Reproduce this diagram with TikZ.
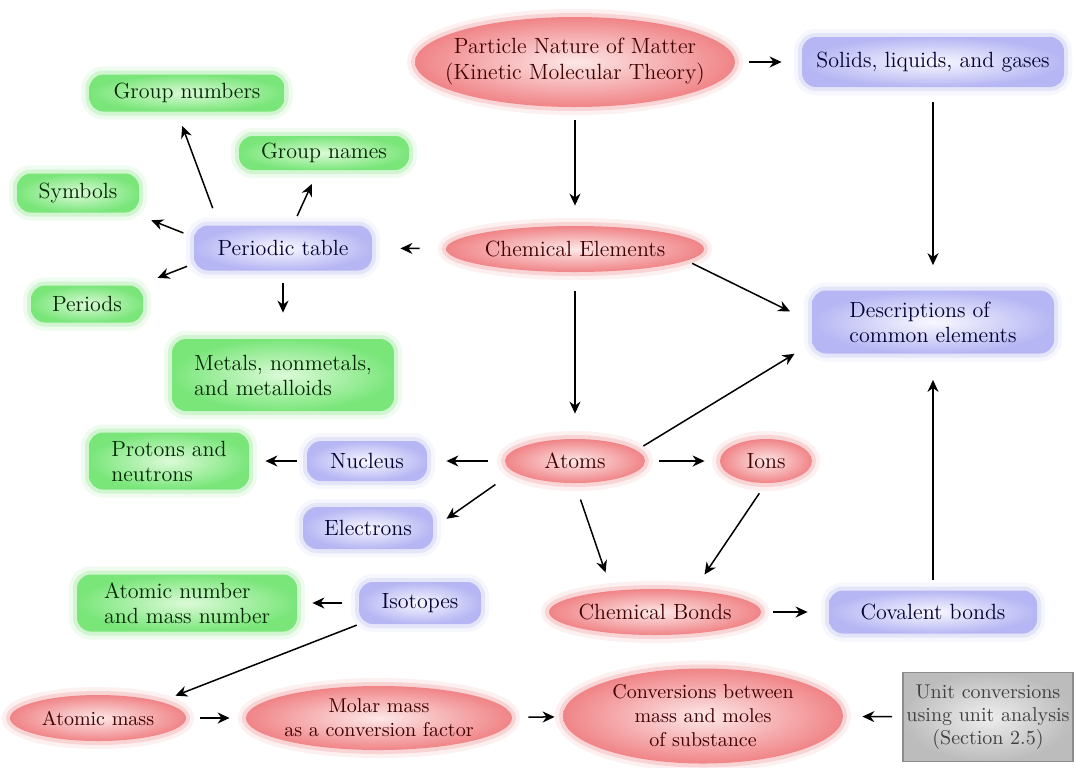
\documentclass[tikz,border=0pt]{standalone}
\usepackage{tikz}
\usetikzlibrary{shapes, arrows.meta, positioning}
\usepackage{xcolor}

\definecolor{redEdge}{RGB}{240,132,135}
\definecolor{redCore}{RGB}{253,232,232}
\definecolor{blueEdge}{RGB}{182,182,244}
\definecolor{blueCore}{RGB}{248,248,255}
\definecolor{greenEdge}{RGB}{122,230,122}
\definecolor{greenCore}{RGB}{220,250,216}
\definecolor{grayEdge}{RGB}{188,188,188}
\definecolor{grayCore}{RGB}{238,238,238}

\begin{document}
\begin{tikzpicture}[x=0.5pt, y=-0.5pt,
    >={Stealth[length=6pt, width=5.5pt]},
    halo/.style={preaction={draw=#1, draw opacity=0.12, line width=8pt},
                 preaction={draw=#1, draw opacity=0.25, line width=4pt}},
    redball/.style={ellipse, inner xsep=-12pt, inner ysep=-4pt, inner color=redCore, outer color=redEdge,
                    text=red!25!black, align=center, halo=redEdge, font=\fontsize{11}{13}\selectfont},
    smallball/.style={redball, font=\fontsize{10}{12}\selectfont},
    bluebox/.style={rectangle, rounded corners=7pt, inner sep=0pt, inner color=blueCore, outer color=blueEdge,
                    text=blue!20!black, align=left, halo=blueEdge, font=\fontsize{11}{12.5}\selectfont},
    greenbox/.style={rectangle, rounded corners=7pt, inner sep=0pt, inner color=greenCore, outer color=greenEdge,
                     text=green!15!black, align=left, halo=greenEdge, font=\fontsize{11}{12.5}\selectfont},
    graybox/.style={rectangle, inner sep=0pt, inner color=grayCore, outer color=grayEdge, draw=black!45,
                    line width=0.8pt, text=black!75, align=center, font=\fontsize{10}{11.5}\selectfont},
    link/.style={->, line width=0.75pt},
    gap/.style 2 args={shorten <=#1, shorten >=#2}]

    \useasboundingbox[fill=white] (0,0) rectangle (1076,767);

    % top row
    \node (matter) [redball, minimum width=160pt, minimum height=45pt] at (575,62) {Particle Nature of Matter\\(Kinetic Molecular Theory)};
    \node (phases) [bluebox, minimum width=131pt, minimum height=25pt] at (933,62) {Solids, liquids, and gases};
    \node (elements) [redball, minimum width=129pt, minimum height=23pt] at (575,249) {Chemical Elements};
    \node (descr) [bluebox, minimum width=121pt, minimum height=31.5pt] at (933,322) {Descriptions of\\common elements};

    % periodic table group
    \node (ptable) [bluebox, minimum width=89pt, minimum height=22.5pt] at (283,248) {Periodic table};
    \node (gnum) [greenbox, minimum width=97.5pt, minimum height=18.5pt] at (187,93) {Group numbers};
    \node (gname) [greenbox, minimum width=85pt, minimum height=17pt] at (324,153) {Group names};
    \node (symb) [greenbox, minimum width=61pt, minimum height=19.5pt] at (78,193) {Symbols};
    \node (periods) [greenbox, minimum width=56pt, minimum height=18.5pt] at (87,304) {Periods};
    \node (metals) [greenbox, minimum width=111pt, minimum height=36pt] at (283,375) {Metals, nonmetals,\\and metalloids};

    % atoms group
    \node (atoms) [redball, minimum width=70pt, minimum height=22pt] at (575,461) {Atoms};
    \node (ions) [redball, minimum width=46pt, minimum height=22pt] at (766,461) {Ions};
    \node (nucleus) [bluebox, minimum width=60pt, minimum height=20pt] at (367,461) {Nucleus};
    \node (protons) [greenbox, minimum width=80pt, minimum height=28.5pt] at (169,461) {Protons and\\neutrons};
    \node (electrons) [bluebox, minimum width=65pt, minimum height=21pt] at (368,528) {Electrons};
    \node (isotopes) [bluebox, minimum width=61pt, minimum height=21pt] at (420,603) {Isotopes};
    \node (atnum) [greenbox, minimum width=110pt, minimum height=28.5pt] at (187,603) {Atomic number\\and mass number};
    \node (bonds) [redball, minimum width=106pt, minimum height=23pt] at (655,612) {Chemical Bonds};
    \node (covalent) [bluebox, minimum width=104pt, minimum height=21.5pt] at (933,612) {Covalent bonds};

    % bottom row
    \node (amass) [smallball, minimum width=88pt, minimum height=23pt] at (98,718) {Atomic mass};
    \node (molar) [smallball, minimum width=133pt, minimum height=32pt] at (379,718) {Molar mass\\as a conversion factor};
    \node (conv) [smallball, minimum width=140pt, minimum height=47.5pt] at (703,716) {Conversions between\\mass and moles\\of substance};
    \node (units) [graybox, minimum width=85pt, minimum height=44.5pt] at (988,717) {Unit conversions\\using unit analysis\\(Section 2.5)};

    \draw [link, gap={7pt}{10pt}] (matter) -- (phases);
    \draw [link, gap={6.5pt}{10pt}] (matter) -- (elements);
    \draw [link, gap={7.5pt}{12.5pt}] (phases) -- (descr);
    \draw [link, gap={13pt}{14pt}] (elements) -- (ptable);
    \draw [link, gap={3pt}{12pt}] (elements.-6) -- (descr.west);
    \draw [link, gap={9.5pt}{12.5pt}] (elements) -- (atoms);
    \draw [link, gap={4pt}{10pt}] (atoms.10) -- (descr.190);

    \draw [link, gap={9pt}{7.5pt}] ([xshift=-32pt]ptable.north) -- ([xshift=-5pt]gnum.south);
    \draw [link, gap={5pt}{7.5pt}] ([xshift=5pt]ptable.north) -- ([xshift=-3pt]gname.south);
    \draw [link, gap={5.5pt}{10pt}] (ptable.173) -- (symb.-20);
    \draw [link, gap={3.5pt}{10pt}] (ptable.190) -- (periods.20);
    \draw [link, gap={6pt}{13pt}] (ptable) -- (metals);

    \draw [link, gap={8.5pt}{9.5pt}] (atoms) -- (nucleus);
    \draw [link, gap={5pt}{8pt}] (nucleus) -- (protons);
    \draw [link, gap={7pt}{7.5pt}] (atoms) -- (ions);
    \draw [link, gap={11pt}{8pt}] (atoms.190) -- (electrons.east);
    \draw [link, gap={8.5pt}{8.5pt}] (atoms.south) -- ([xshift=-22pt]bonds.north);
    \draw [link, gap={6pt}{8.5pt}] (ions.south) -- ([xshift=20pt]bonds.north);

    \draw [link, gap={8.5pt}{7.5pt}] (isotopes) -- (atnum);
    \draw [link, gap={1pt}{8pt}] (isotopes.south west) -- (amass.north east);
    \draw [link, gap={6pt}{10.5pt}] (bonds) -- (covalent);
    \draw [link, gap={5pt}{13pt}] (covalent) -- (descr);

    \draw [link, gap={7pt}{8pt}] (amass) -- (molar);
    \draw [link, gap={8pt}{4pt}] (molar) -- (conv);
    \draw [link, gap={5pt}{9.5pt}] (units) -- (conv);
\end{tikzpicture}
\end{document}
